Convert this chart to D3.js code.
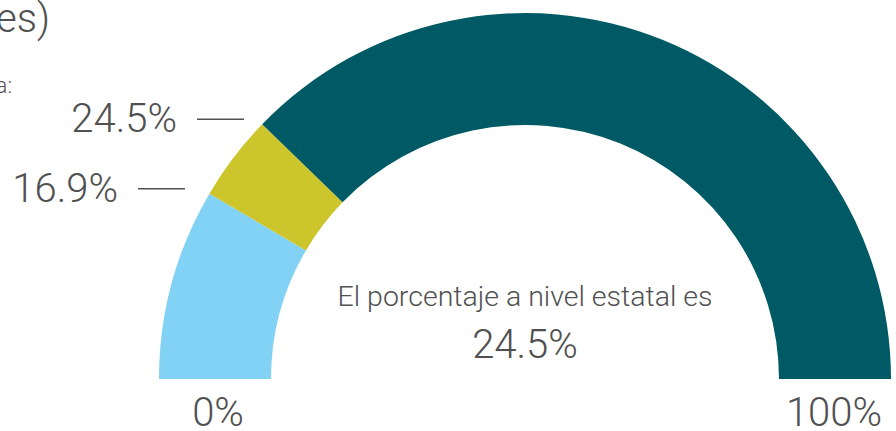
<!DOCTYPE html>
<html>
<head>
<meta charset="utf-8">
<script src="https://cdn.jsdelivr.net/npm/d3@7"></script>
<style>
  html, body { margin: 0; padding: 0; background: #fff; }
  svg { display: block; font-family: Roboto, "Noto Sans", sans-serif; }
</style>
</head>
<body>
<div class="chart-area"></div>
<script>
// data read from the gauge
var bandLabels = ["Grupo 1", "Grupo 2", "Resto"];
var bandEnds = [16.9, 24.5, 100];          // cumulative % where each band stops
var bandColors = ["#81d2f4", "#ccc62c", "#005a65"];
var markedValues = [24.5, 16.9];           // labels with a leader line
var stateValue = 24.5;
var endLabels = ["0%", "100%"];
var titleTail = "(porcentajes)";
var subtitleTail = "Porcentaje por entidad federativa:";

var width = 896, height = 431;
var cx = 525, cy = 379, outerR = 366, innerR = 254;
var textColor = "#505050";

var svg = d3.select(".chart-area").append("svg")
	.attr("width", width)
	.attr("height", height);

var angle = d3.scaleLinear()
	.domain([0, 100])
	.range([-Math.PI / 2, Math.PI / 2]);

var bands = bandEnds.map(function(d, i) {
	return { name: bandLabels[i], from: i ? bandEnds[i - 1] : 0, to: d, color: bandColors[i] };
});

var arc = d3.arc()
	.innerRadius(innerR)
	.outerRadius(outerR)
	.startAngle(function(d) { return angle(d.from); })
	.endAngle(function(d) { return angle(d.to); });

var g = svg.append("g")
	.attr("transform", "translate(" + cx + "," + cy + ")");

g.selectAll("path.band")
	.data(bands)
	.enter().append("path")
	.attr("class", "band")
	.attr("d", arc)
	.attr("fill", function(d) { return d.color; });

// cropped heading text at top-left
svg.append("text")
	.attr("x", 50).attr("y", 32)
	.attr("text-anchor", "end")
	.style("font-size", "40px").style("font-weight", 300)
	.attr("fill", textColor)
	.text(titleTail);

svg.append("text")
	.attr("x", 12).attr("y", 93)
	.attr("text-anchor", "end")
	.style("font-size", "22px").style("font-weight", 300)
	.attr("fill", textColor)
	.text(subtitleTail);

// leader lines + labels next to the band boundaries
function leaderEnd(v) {
	var a = angle(v);
	var r = outerR + 43;
	return [r * Math.sin(a) + 12.7, -outerR * Math.cos(a) - 5];
}

var marks = g.selectAll("g.mark")
	.data(markedValues)
	.enter().append("g")
	.attr("class", "mark")
	.attr("transform", function(d) {
		var p = leaderEnd(d);
		return "translate(" + p[0] + "," + p[1] + ")";
	});

marks.append("line")
	.attr("x1", -47).attr("x2", 0)
	.attr("y1", 0).attr("y2", 0)
	.attr("stroke", textColor)
	.attr("stroke-width", 1.4);

marks.append("text")
	.attr("x", -67).attr("y", 13)
	.attr("text-anchor", "end")
	.style("font-size", "40px").style("font-weight", 300)
	.attr("fill", textColor)
	.text(function(d) { return d + "%"; });

// center text
g.append("text")
	.attr("x", 0).attr("y", -73)
	.attr("text-anchor", "middle")
	.style("font-size", "28.5px").style("font-weight", 300)
	.attr("fill", textColor)
	.text("El porcentaje a nivel estatal es");

g.append("text")
	.attr("x", 0).attr("y", -21)
	.attr("text-anchor", "middle")
	.style("font-size", "40px").style("font-weight", 300)
	.attr("fill", textColor)
	.text(stateValue + "%");

// 0% and 100% under the ends of the band
var mid = (outerR + innerR) / 2;
g.selectAll("text.end")
	.data(endLabels)
	.enter().append("text")
	.attr("class", "end")
	.attr("x", function(d, i) { return i ? mid - 1 : -mid + 3; })
	.attr("y", 47)
	.attr("text-anchor", "middle")
	.style("font-size", "40px").style("font-weight", 300)
	.attr("fill", textColor)
	.text(function(d) { return d; });
</script>
</body>
</html>
